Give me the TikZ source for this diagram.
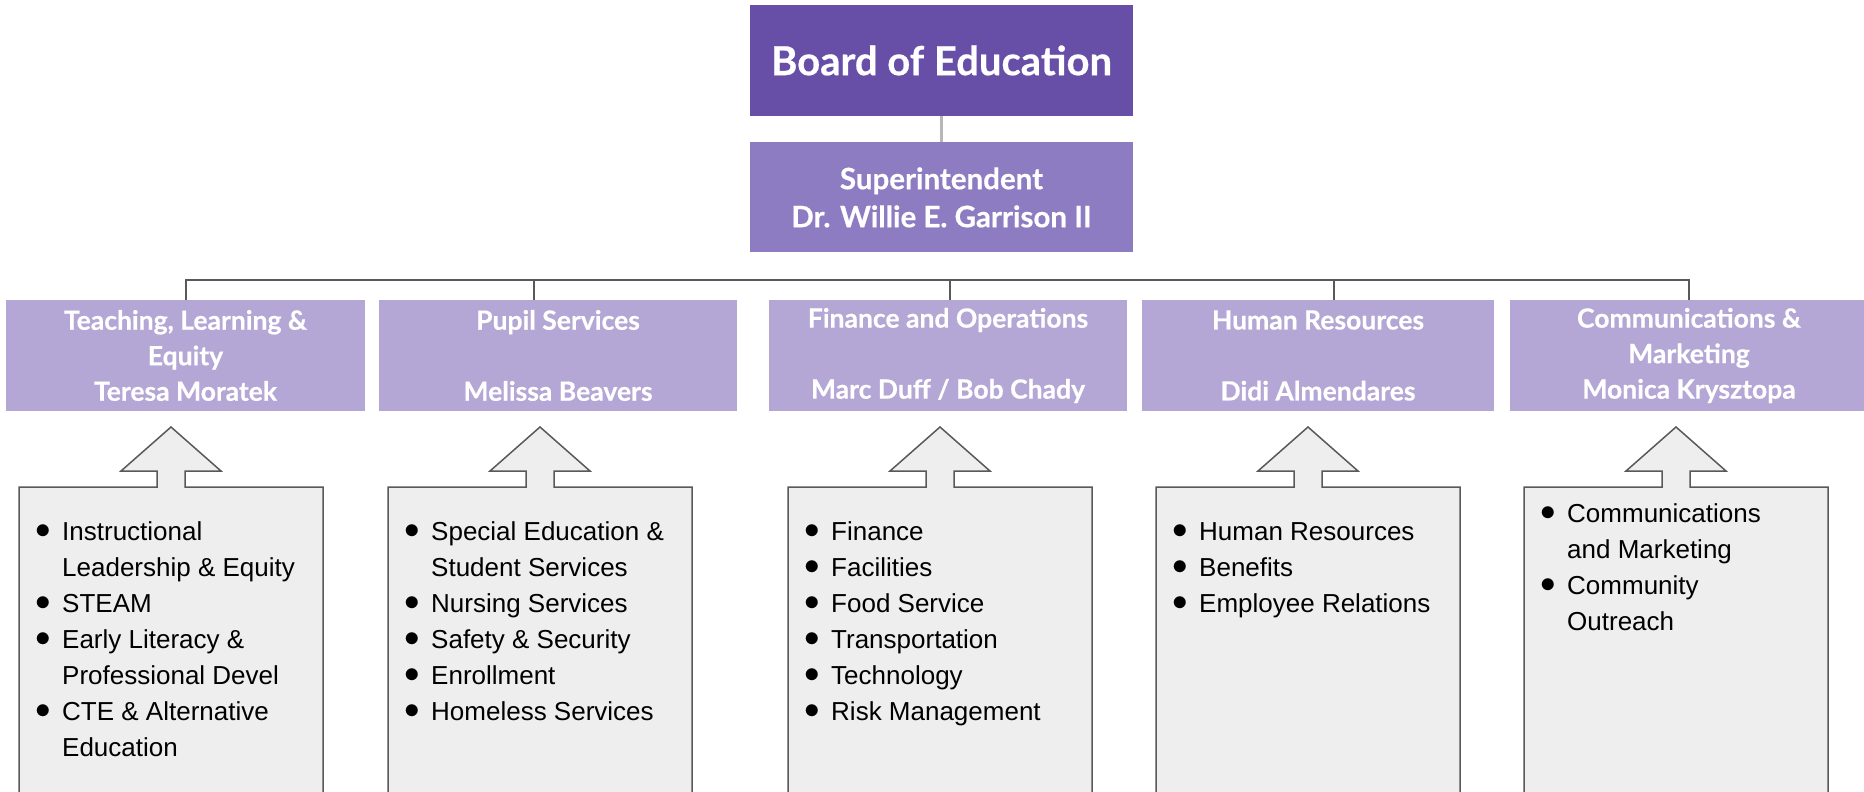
\documentclass[tikz,border=0pt]{standalone}
\usepackage{fontspec}
\setmainfont{Liberation Sans}
\newfontfamily\headfont{Lato}[BoldFeatures={FakeBold=0.5}]
\usetikzlibrary{positioning}
\definecolor{boardpurple}{HTML}{674EA7}
\definecolor{suppurple}{HTML}{8E7CC3}
\definecolor{deptpurple}{HTML}{B4A7D6}
\definecolor{listgray}{HTML}{EEEEEE}
\definecolor{edgegray}{HTML}{595959}
\definecolor{linkgray}{HTML}{B7B7B7}
\newcommand{\bul}{\makebox[27pt][l]{\raisebox{1.5pt}{\scalebox{1.25}{$\bullet$}}}}

\begin{document}
\begin{tikzpicture}[x=1pt, y=-1pt,
    board/.style={fill=boardpurple, text=white, minimum width=383pt, minimum height=111pt, inner sep=0pt, font=\headfont\bfseries\fontsize{40}{48}\selectfont},
    super/.style={fill=suppurple, text=white, minimum width=383pt, minimum height=110pt, inner sep=0pt, align=center, font=\headfont\bfseries\fontsize{29.5}{38}\selectfont},
    dept/.style={fill=deptpurple, text=white, minimum width=358pt, minimum height=111pt, inner sep=0pt, align=center, font=\headfont\bfseries\fontsize{26.5}{35.5}\selectfont},
    orgline/.style={draw=edgegray, line width=2pt},
    unitbox/.style={fill=listgray, draw=edgegray, line width=1.5pt},
    duties/.style={anchor=base west, inner sep=0pt, font=\fontsize{26}{36}\selectfont}]
    \useasboundingbox (0,0) rectangle (1864,792);
    \clip (0,0) rectangle (1864,792);

    % Board and superintendent
    \node[board] (board) at (941.5,60.5) {Board of Education};
    \node[super, below=26pt of board] (super) {Superintendent\\Dr. Willie E. Garrison II};
    \draw[linkgray, line width=3pt] (board) -- (super);

    % Departments
    \node[dept, minimum width=359pt] (tle) at (185.5,355.5) {Teaching, Learning \&\\Equity\\Teresa Moratek};
    \node[dept] (pupil) at (558,355.5) {Pupil Services\\\mbox{}\\Melissa Beavers};
    \node[dept] (finops) at (948,355.5) {Finance and Operations\\\mbox{}\\Marc Duff / Bob Chady};
    \node[dept, minimum width=352pt] (hr) at (1318,355.5) {Human Resources\\\mbox{}\\Didi Almendares};
    \node[dept] (comm) at (1689,355.5) {Communications \&\\Marketing\\Monica Krysztopa};

    % Connectors to departments
    \draw[orgline] (tle.north) -- ++(0,-20) -| (comm.north);
    \draw[orgline] ([xshift=-24pt]pupil.north) -- ++(0,-20);
    \draw[orgline] ([xshift=2pt]finops.north) -- ++(0,-20);
    \draw[orgline] ([xshift=16pt]hr.north) -- ++(0,-20);

    % Boxes with up arrows
    \foreach \c in {171,540,940,1308,1676}
        \draw[unitbox] (\c-152,800) -- (\c-152,487) -- (\c-14,487) -- (\c-14,471) -- (\c-50,471)
            -- (\c,427) -- (\c+50,471) -- (\c+14,471) -- (\c+14,487) -- (\c+152,487) -- (\c+152,800);

    % Duties
    \node[duties] (tledut) at (35,540) {\begin{tabular}[t]{@{}l@{}l@{}}
        \bul & Instructional\\ & Leadership \& Equity\\ \bul & STEAM\\ \bul & Early Literacy \&\\
        & Professional Devel\\ \bul & CTE \& Alternative\\ & Education\end{tabular}};
    \node[duties] (pupdut) at (404,540) {\begin{tabular}[t]{@{}l@{}l@{}}
        \bul & Special Education \&\\ & Student Services\\ \bul & Nursing Services\\
        \bul & Safety \& Security\\ \bul & Enrollment\\ \bul & Homeless Services\end{tabular}};
    \node[duties] (findut) at (804,540) {\begin{tabular}[t]{@{}l@{}l@{}}
        \bul & Finance\\ \bul & Facilities\\ \bul & Food Service\\ \bul & Transportation\\
        \bul & Technology\\ \bul & Risk Management\end{tabular}};
    \node[duties] (hrdut) at (1172,540) {\begin{tabular}[t]{@{}l@{}l@{}}
        \bul & Human Resources\\ \bul & Benefits\\ \bul & Employee Relations\end{tabular}};
    \node[duties] (comdut) at (1540,522) {\begin{tabular}[t]{@{}l@{}l@{}}
        \bul & Communications\\ & and Marketing\\ \bul & Community\\ & Outreach\end{tabular}};
\end{tikzpicture}
\end{document}
